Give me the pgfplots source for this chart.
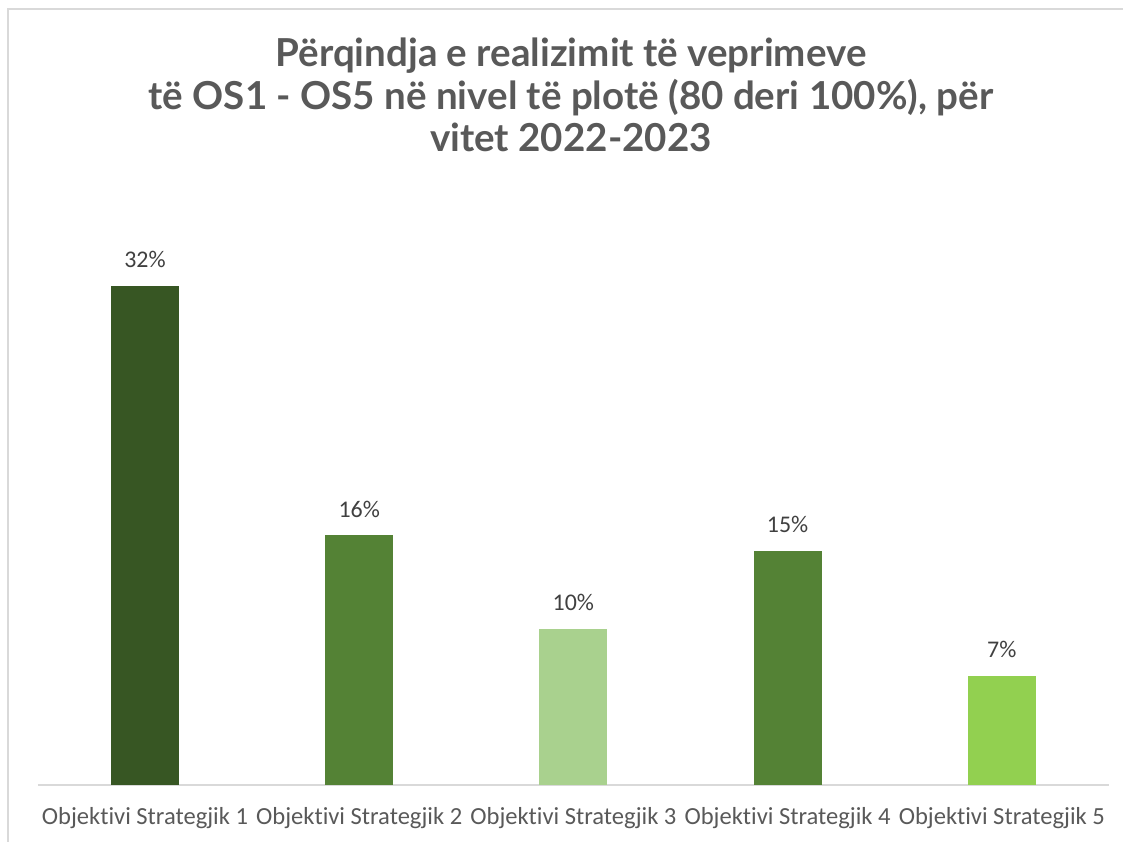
\documentclass[border=0pt]{standalone}
\usepackage{pgfplots}
\pgfplotsset{compat=1.18}
\usepackage{fontspec}
\setmainfont{Carlito}[Ligatures=NoCommon]
\newfontfamily\titlefont{Lato}
\definecolor{c1}{HTML}{375623}
\definecolor{c2}{HTML}{548235}
\definecolor{c3}{HTML}{A9D18E}
\definecolor{c5}{HTML}{92D050}
\definecolor{tickc}{HTML}{595959}
\definecolor{labc}{HTML}{404040}
\definecolor{gridc}{HTML}{D9D9D9}
\begin{document}
\begin{tikzpicture}
\useasboundingbox (0bp,0bp) rectangle (842.25bp,631.5bp);
\draw[gridc,line width=1.5bp] (6bp,-15bp) -- (6bp,624.75bp) -- (855bp,624.75bp);
\node[font=\titlefont\bfseries\fontsize{29}{32.25}\selectfont, text=tickc, align=center, anchor=center] at (428.25bp,560.25bp)
 {Përqindja e realizimit të veprimeve\\të OS1 - OS5 në nivel të plotë (80 deri 100\%), për\\vitet 2022-2023};
\begin{axis}[
  at={(108.75bp,42.75bp)}, anchor=origin,
  scale only axis, width=803.25bp, height=409.5bp,
  xmin=-0.5, xmax=4.5, ymin=0, ymax=35,
  ybar, bar width=51bp, bar shift=0pt,
  axis x line=bottom, axis y line=none,
  x axis line style={gridc, line width=1.5bp, -},
  xtick={0,1,2,3,4},
  xticklabels={Objektivi Strategjik 1,Objektivi Strategjik 2,Objektivi Strategjik 3,Objektivi Strategjik 4,Objektivi Strategjik 5},
  xtick style={draw=none},
  xticklabel style={font=\fontsize{18.5}{21}\selectfont, text=tickc, yshift=-11bp},
  /pgf/number format/assume math mode=true,
  nodes near coords={\pgfmathprintnumber{\pgfplotspointmeta}\%},
  every node near coord/.append style={font=\fontsize{18}{21}\selectfont, text=labc, yshift=10bp},
  clip=false,
]
\addplot[fill=c1, draw=none] coordinates {(0,32)};
\addplot[fill=c2, draw=none] coordinates {(1,16)};
\addplot[fill=c3, draw=none] coordinates {(2,10)};
\addplot[fill=c2, draw=none] coordinates {(3,15)};
\addplot[fill=c5, draw=none] coordinates {(4,7)};
\end{axis}
\end{tikzpicture}
\end{document}
